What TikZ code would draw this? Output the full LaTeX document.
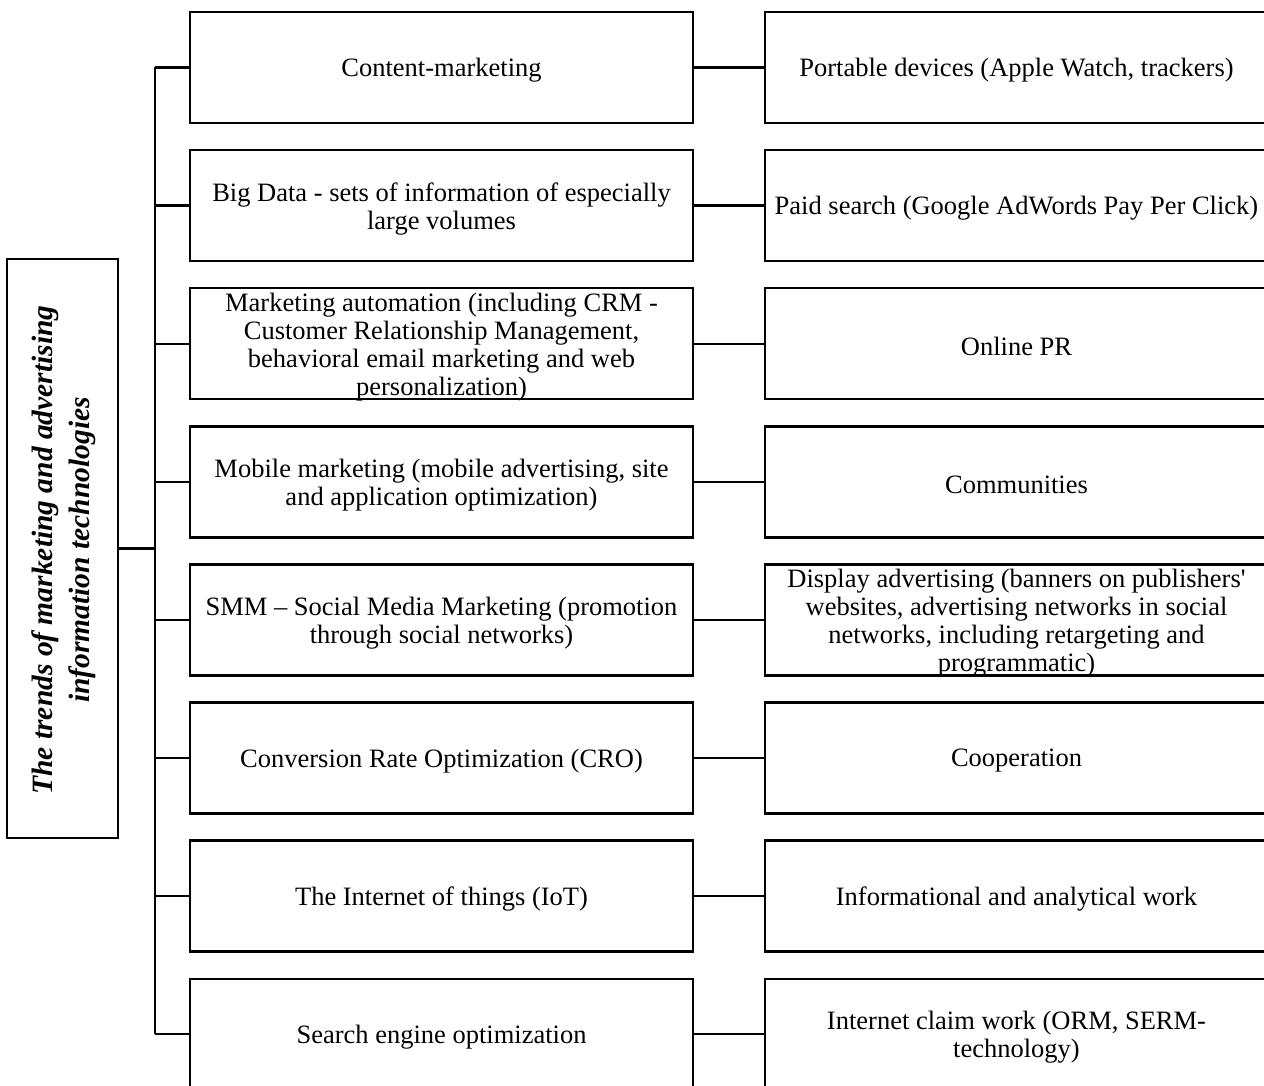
\documentclass[tikz,border=0pt]{standalone}
\usepackage{fontspec}
\setmainfont{Liberation Serif}
\begin{document}
\begin{tikzpicture}[x=1pt,y=-1pt,
  box/.style={draw=black, line width=2.4pt, minimum width=503pt, minimum height=111pt, inner sep=0pt},
  rootbox/.style={draw=black, line width=2.4pt, minimum width=111pt, minimum height=579pt, inner sep=0pt},
  txt/.style={font=\fontsize{26.5}{28}\selectfont, align=center, inner sep=0pt, yshift=-3pt},
  roottxt/.style={font=\fontsize{29.5}{37}\selectfont\bfseries\itshape, align=center, inner sep=0pt, rotate=90},
  conn/.style={line width=2.4pt},
]
\useasboundingbox (0,0) rectangle (1264,1086);
\clip (0,0) rectangle (1264,1086);

% root
\node[rootbox] (root) at (62.5,548.5) {};
\node[roottxt] (roottext) at (64,550) {The trends of marketing and advertising\\information technologies};

% middle column
\node[box] (m1) at (441.5,67.5) {};
\node[box] (m2) at (441.5,205.6) {};
\node[box] (m3) at (441.5,343.7) {};
\node[box] (m4) at (441.5,481.8) {};
\node[box] (m5) at (441.5,619.9) {};
\node[box] (m6) at (441.5,758.0) {};
\node[box] (m7) at (441.5,896.1) {};
\node[box] (m8) at (441.5,1034.2) {};

\node[txt] (m1t) at (m1) {Content-marketing};
\node[txt] (m2t) at (m2) {Big Data - sets of information of especially\\large volumes};
\node[txt] (m3t) at (m3) {Marketing automation (including CRM -\\Customer Relationship Management,\\behavioral email marketing and web\\personalization)};
\node[txt] (m4t) at (m4) {Mobile marketing (mobile advertising, site\\and application optimization)};
\node[txt] (m5t) at (m5) {SMM -- Social Media Marketing (promotion\\through social networks)};
\node[txt] (m6t) at (m6) {Conversion Rate Optimization (CRO)};
\node[txt] (m7t) at (m7) {The Internet of things (IoT)};
\node[txt] (m8t) at (m8) {Search engine optimization};

% right column
\node[box] (r1) at (1016.5,67.5) {};
\node[box] (r2) at (1016.5,205.6) {};
\node[box] (r3) at (1016.5,343.7) {};
\node[box] (r4) at (1016.5,481.8) {};
\node[box] (r5) at (1016.5,619.9) {};
\node[box] (r6) at (1016.5,758.0) {};
\node[box] (r7) at (1016.5,896.1) {};
\node[box] (r8) at (1016.5,1034.2) {};

\node[txt] (r1t) at (r1) {Portable devices (Apple Watch, trackers)};
\node[txt] (r2t) at (r2) {Paid search (Google AdWords Pay Per Click)};
\node[txt] (r3t) at (r3) {Online PR};
\node[txt] (r4t) at (r4) {Communities};
\node[txt] (r5t) at (r5) {Display advertising (banners on publishers\textquotesingle\\websites, advertising networks in social\\networks, including retargeting and\\programmatic)};
\node[txt] (r6t) at (r6) {Cooperation};
\node[txt] (r7t) at (r7) {Informational and analytical work};
\node[txt] (r8t) at (r8) {Internet claim work (ORM, SERM-\\technology)};

% trunk
\coordinate (trunkTop) at (155,67.5);
\coordinate (trunkBot) at (155,1034.2);
\draw[conn] (trunkTop) -- (trunkBot);
\draw[conn] (root.east) -- (root.east -| trunkTop);

\foreach \i in {1,...,8}{
  \draw[conn] (m\i.west -| trunkTop) -- (m\i.west);
  \draw[conn] (m\i.east) -- (r\i.west);
}
\end{tikzpicture}
\end{document}
